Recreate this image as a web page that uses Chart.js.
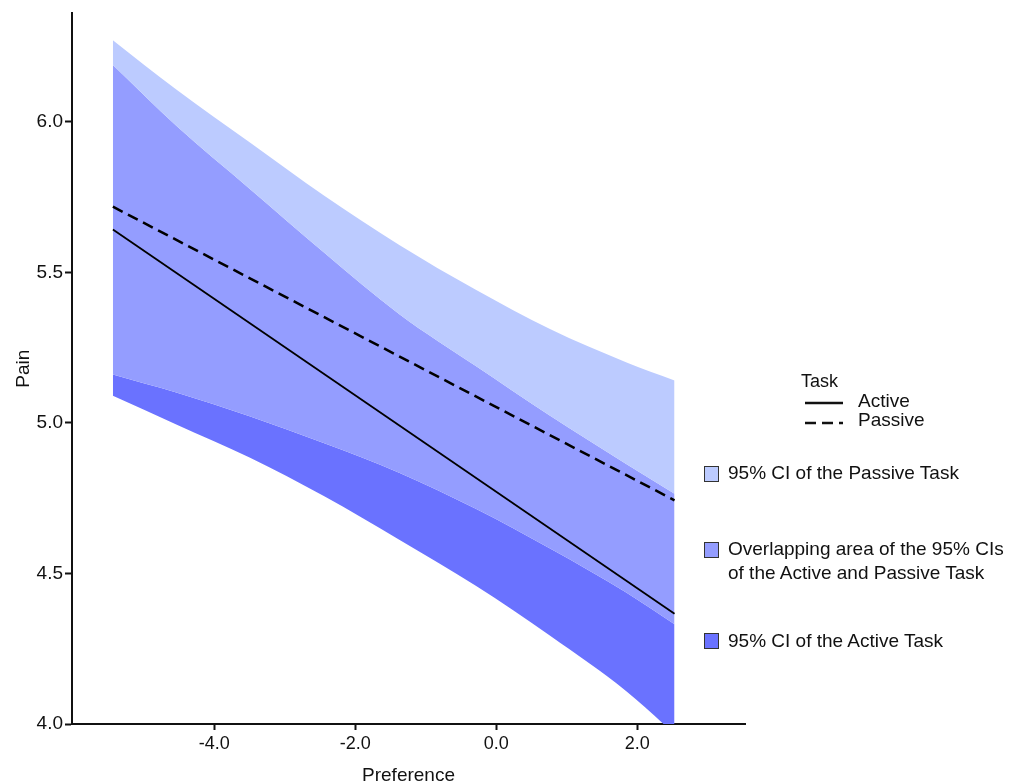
<!DOCTYPE html>
<html><head><meta charset="utf-8">
<script src="https://cdn.jsdelivr.net/npm/chart.js@4/dist/chart.umd.min.js"></script>
<style>
html,body{margin:0;padding:0;background:#fff;}
#wrap{position:relative;width:1033px;height:784px;overflow:hidden;}
canvas{position:absolute;left:0;top:0;}
.lg{position:absolute;font-family:'Liberation Sans',Arial,Helvetica,sans-serif;font-size:19px;color:#111;line-height:24px;white-space:nowrap;}
.box{position:absolute;width:15px;height:16px;border:1px solid #333;box-sizing:border-box;}
</style></head>
<body><div id="wrap"><canvas id="c" width="1033" height="784"></canvas>
<div class="lg" style="left:801px;top:369px;font-size:18px;">Task</div>
<svg style="position:absolute;left:800px;top:395px;" width="50" height="36">
<line x1="5" y1="8" x2="43" y2="8" stroke="#111" stroke-width="2.5"/>
<line x1="5" y1="28" x2="43" y2="28" stroke="#111" stroke-width="2.5" stroke-dasharray="11,6"/>
</svg>
<div class="lg" style="left:858px;top:389px;">Active</div>
<div class="lg" style="left:858px;top:408px;">Passive</div>
<div class="box" style="left:704px;top:466px;background:#bccbff;"></div>
<div class="lg" style="left:728px;top:461px;">95% CI of the Passive Task</div>
<div class="box" style="left:704px;top:542px;background:#949dff;"></div>
<div class="lg" style="left:728px;top:537px;">Overlapping area of the 95% CIs<br>of the Active and Passive Task</div>
<div class="box" style="left:704px;top:633px;background:#6a72ff;"></div>
<div class="lg" style="left:728px;top:629px;">95% CI of the Active Task</div>
</div>
<script>
const xVals = [-5.44, -4.54, -3.50, -2.44, -1.37, -0.29, 0.77, 1.85, 2.53];
const passiveUpper = [6.271, 6.107, 5.932, 5.754, 5.590, 5.442, 5.311, 5.201, 5.141];
const activeUpper = [6.189, 5.987, 5.778, 5.565, 5.360, 5.189, 5.023, 4.863, 4.765];
const passiveLower = [5.161, 5.101, 5.022, 4.932, 4.834, 4.715, 4.582, 4.436, 4.331];
const activeLower = [5.090, 4.995, 4.885, 4.756, 4.611, 4.459, 4.292, 4.108, 3.967];
const lineX = [-5.44, 2.53];
const activeFit = [5.642, 4.366];
const passiveFit = [5.718, 4.743];
const xTicks = [-4.0, -2.0, 0.0, 2.0];
const yTicks = [4.0, 4.5, 5.0, 5.5, 6.0];

const FONT = "'Liberation Sans', Arial, Helvetica, sans-serif";
Chart.defaults.font.family = FONT;
Chart.defaults.color = '#111';

const pts = (xs, ys) => xs.map((x, i) => ({x: x, y: ys[i]}));
const band = (ys, color, fill) => ({
  data: pts(xVals, ys), borderWidth: 0, pointRadius: 0, backgroundColor: color,
  fill: fill, cubicInterpolationMode: 'monotone', clip: false
});

new Chart(document.getElementById('c'), {
  type: 'line',
  data: {
    datasets: [
      {data: pts(lineX, activeFit), borderColor: '#000', borderWidth: 1.8, pointRadius: 0, fill: false},
      {data: pts(lineX, passiveFit), borderColor: '#000', borderWidth: 2.5, borderDash: [11, 6], pointRadius: 0, fill: false},
      band(passiveUpper, '#bccbff', '+1'),
      band(activeUpper, '#949dff', '+1'),
      band(passiveLower, '#6a72ff', '+1'),
      band(activeLower, 'rgba(0,0,0,0)', false)
    ]
  },
  options: {
    responsive: false, animation: false, devicePixelRatio: 1,
    layout: {padding: {left: 0, top: 13, right: 288, bottom: 0}},
    plugins: {legend: {display: false}, tooltip: {enabled: false}},
    scales: {
      x: {
        type: 'linear', min: -6.02, max: 3.53,
        afterBuildTicks: s => { s.ticks = xTicks.map(v => ({value: v})); },
        afterFit: s => { s.height = 60; },
        ticks: {callback: v => Number(v).toFixed(1), font: {size: 18}, color: '#111', padding: 3, autoSkip: false, maxRotation: 0},
        grid: {display: true, drawOnChartArea: false, drawTicks: true, tickLength: 6, tickWidth: 2, color: '#111', tickColor: '#111'},
        border: {display: true, color: '#111', width: 2},
        title: {display: true, text: 'Preference', font: {size: 19}, color: '#111', padding: {top: 0, bottom: -3}}
      },
      y: {
        type: 'linear', min: 4.0, max: 6.36,
        afterBuildTicks: s => { s.ticks = yTicks.map(v => ({value: v})); },
        afterFit: s => { s.width = 72; },
        ticks: {callback: v => Number(v).toFixed(1), font: {size: 19}, color: '#111', padding: 2, autoSkip: false},
        grid: {display: true, drawOnChartArea: false, drawTicks: true, tickLength: 7, tickWidth: 2, color: '#111', tickColor: '#111'},
        border: {display: true, color: '#111', width: 2},
        title: {display: true, text: 'Pain', font: {size: 19}, color: '#111', padding: {top: 12, bottom: 0}}
      }
    }
  }
});
</script>
</body></html>
